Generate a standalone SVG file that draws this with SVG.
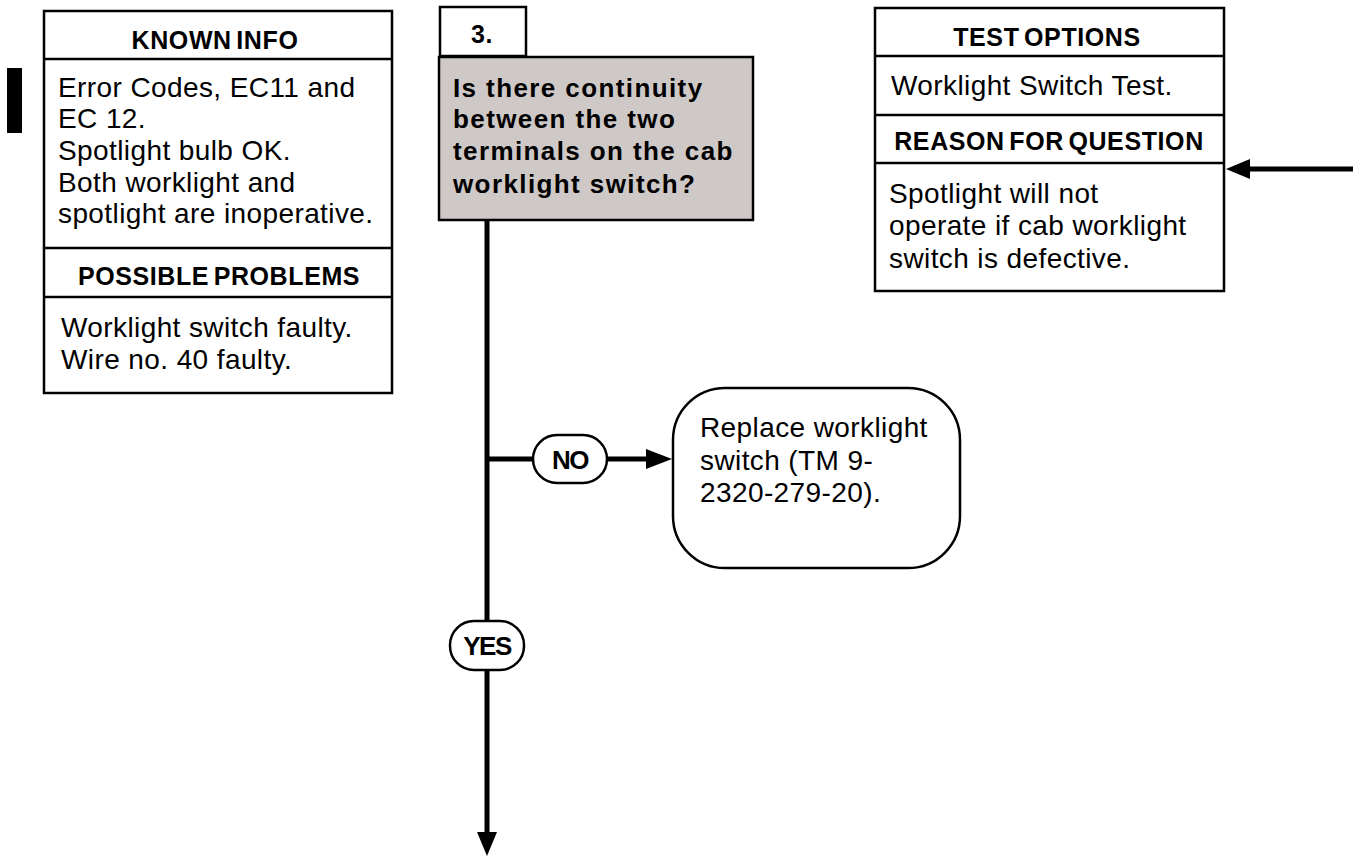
<svg xmlns="http://www.w3.org/2000/svg" width="1355" height="857" viewBox="0 0 1355 857">
<style>
.box{fill:#fff;stroke:#000;stroke-width:2.5}
.hdr{font-family:"Liberation Sans",Arial,sans-serif;font-weight:bold;font-size:25px;text-anchor:middle;fill:#000;letter-spacing:0.6px;word-spacing:-3px}
.body{font-family:"Liberation Sans",Arial,sans-serif;font-size:28px;fill:#000;letter-spacing:0.4px}
.q{font-family:"Liberation Sans",Arial,sans-serif;font-weight:bold;font-size:26px;fill:#000;letter-spacing:1.4px}
.lbl{font-family:"Liberation Sans",Arial,sans-serif;font-weight:bold;font-size:26px;text-anchor:middle;fill:#000;letter-spacing:-1.5px}
.conn{stroke:#000;stroke-width:5;fill:none}
.line{stroke:#000;stroke-width:2.5}
</style>
<rect x="7" y="68" width="15" height="65" fill="#000"/>
<g id="known-info">
<rect class="box" x="44" y="11" width="348" height="382"/>
<line class="line" x1="44" y1="59" x2="392" y2="59"/>
<line class="line" x1="44" y1="248" x2="392" y2="248"/>
<line class="line" x1="44" y1="297" x2="392" y2="297"/>
<text class="hdr" x="215" y="49">KNOWN INFO</text>
<text class="body" x="58" y="97">Error Codes, EC11 and</text>
<text class="body" x="58" y="128">EC 12.</text>
<text class="body" x="58" y="160">Spotlight bulb OK.</text>
<text class="body" x="58" y="192">Both worklight and</text>
<text class="body" x="58" y="223">spotlight are inoperative.</text>
<text class="hdr" x="219" y="285">POSSIBLE PROBLEMS</text>
<text class="body" x="61" y="337">Worklight switch faulty.</text>
<text class="body" x="61" y="369">Wire no. 40 faulty.</text>
</g>
<g id="step-number">
<rect class="box" x="440" y="7" width="86" height="49"/>
<text class="hdr" x="482" y="43">3.</text>
</g>
<g id="question">
<rect x="439" y="57" width="314" height="163" fill="#cec8c6" stroke="#000" stroke-width="2.5"/>
<text class="q" x="453" y="97">Is there continuity</text>
<text class="q" x="453" y="128">between the two</text>
<text class="q" x="453" y="160">terminals on the cab</text>
<text class="q" x="453" y="193">worklight switch?</text>
</g>
<g id="test-options">
<rect class="box" x="875" y="8" width="349" height="283"/>
<line class="line" x1="875" y1="56" x2="1224" y2="56"/>
<line class="line" x1="875" y1="115" x2="1224" y2="115"/>
<line class="line" x1="875" y1="163" x2="1224" y2="163"/>
<text class="hdr" x="1047" y="46">TEST OPTIONS</text>
<text class="body" x="891" y="95">Worklight Switch Test.</text>
<text class="hdr" x="1049" y="150">REASON FOR QUESTION</text>
<text class="body" x="889" y="203">Spotlight will not</text>
<text class="body" x="889" y="235">operate if cab worklight</text>
<text class="body" x="889" y="268">switch is defective.</text>
</g>
<g id="replace">
<rect class="box" x="673" y="388" width="287" height="180" rx="52" ry="52"/>
<text class="body" x="700" y="437">Replace worklight</text>
<text class="body" x="700" y="470">switch (TM 9-</text>
<text class="body" x="700" y="502">2320-279-20).</text>
</g>
<g id="connectors">
<line class="conn" x1="487" y1="220" x2="487" y2="621"/>
<line class="conn" x1="487" y1="670" x2="487" y2="834"/>
<polygon points="477,832 497,832 487,856" fill="#000"/>
<line class="conn" x1="487" y1="459" x2="533" y2="459"/>
<line class="conn" x1="607" y1="459" x2="648" y2="459"/>
<polygon points="646,449 646,469 672,459" fill="#000"/>
<line class="conn" x1="1353" y1="169" x2="1248" y2="169"/>
<polygon points="1250,159 1250,179 1226,169" fill="#000"/>
</g>
<g id="no-label">
<rect class="box" x="533" y="435" width="74" height="48" rx="24" ry="24"/>
<text class="lbl" x="570" y="469">NO</text>
</g>
<g id="yes-label">
<rect class="box" x="450" y="621" width="74" height="49" rx="24" ry="24"/>
<text class="lbl" x="487" y="655">YES</text>
</g>
</svg>
